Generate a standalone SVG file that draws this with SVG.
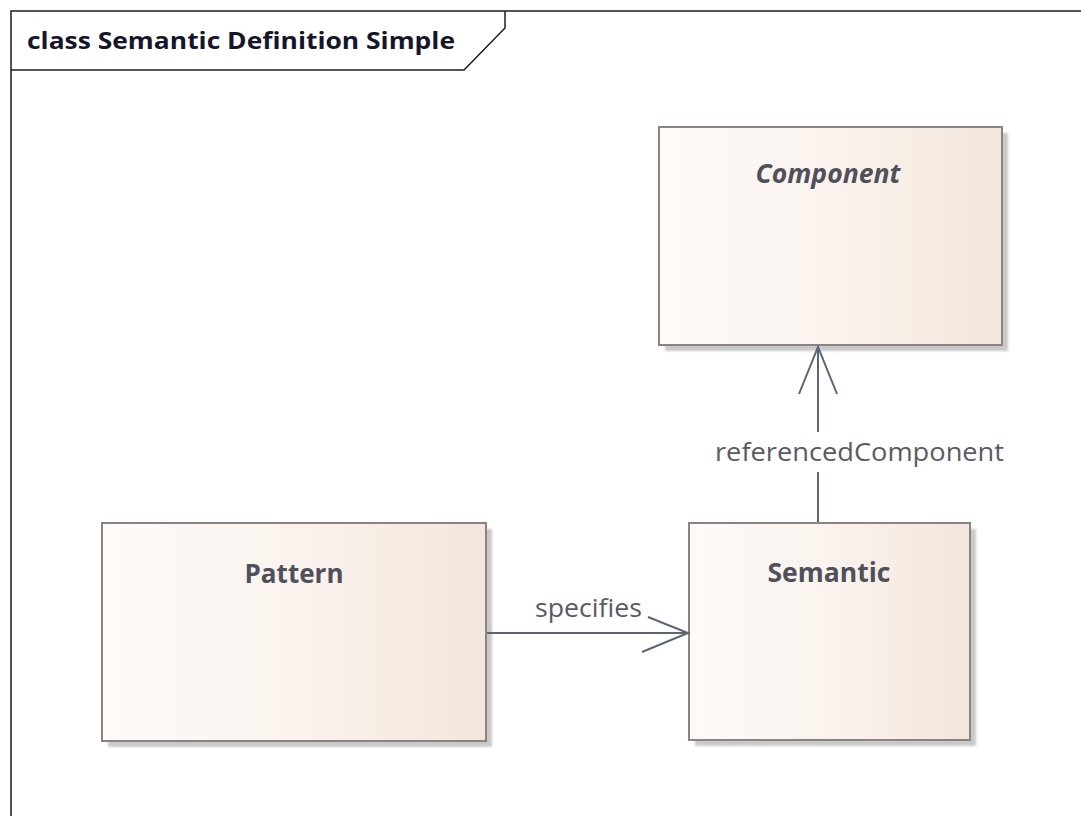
<svg xmlns="http://www.w3.org/2000/svg" width="1081" height="816" viewBox="0 0 1081 816">
  <style>
    .frame { fill: none; stroke: #1e1e1e; stroke-width: 1.5; }
    .title { font-family: "Open Sans", "Liberation Sans", sans-serif; font-weight: 700; font-size: 24px; fill: #16162a; }
    .box { fill: url(#classFill); stroke: #8c8282; stroke-width: 2; }
    .shadow { fill: #c9c9c9; filter: url(#soft); }
    .name { font-family: "Open Sans", "Liberation Sans", sans-serif; font-weight: 700; font-size: 26px; fill: #50505a; text-anchor: middle; }
    .edge { fill: none; stroke: #5c6478; stroke-width: 2; }
    .label { font-family: "Open Sans", "Liberation Sans", sans-serif; font-size: 25px; fill: #5a5a64; }
  </style>
  <defs>
    <linearGradient id="classFill" x1="0" y1="0" x2="1" y2="0">
      <stop offset="0" stop-color="#fdfaf8"/>
      <stop offset="0.5" stop-color="#faf3ee"/>
      <stop offset="1" stop-color="#f3e6db"/>
    </linearGradient>
    <filter id="soft" x="-5%" y="-5%" width="110%" height="110%">
      <feGaussianBlur stdDeviation="1.2"/>
    </filter>
  </defs>

  <rect x="0" y="0" width="1081" height="816" fill="#ffffff"/>

  <!-- diagram frame with its name tab -->
  <g id="frame">
    <rect class="frame" x="11" y="11" width="1090" height="830"/>
    <path class="frame" d="M11 70 H464 L505 28 V11"/>
    <text class="title" x="27" y="49" textLength="428" lengthAdjust="spacingAndGlyphs">class Semantic Definition Simple</text>
  </g>

  <g id="component">
    <rect class="shadow" x="665" y="133" width="343" height="218"/>
    <rect class="box" x="659" y="127" width="343" height="218"/>
    <text class="name" x="828" y="183" font-style="italic" textLength="145" lengthAdjust="spacingAndGlyphs">Component</text>
  </g>

  <g id="pattern">
    <rect class="shadow" x="108" y="529" width="384" height="218"/>
    <rect class="box" x="102" y="523" width="384" height="218"/>
    <text class="name" x="294" y="583" textLength="99" lengthAdjust="spacingAndGlyphs">Pattern</text>
  </g>

  <g id="semantic">
    <rect class="shadow" x="695" y="529" width="281" height="217"/>
    <rect class="box" x="689" y="523" width="281" height="217"/>
    <text class="name" x="829" y="582" textLength="123" lengthAdjust="spacingAndGlyphs">Semantic</text>
  </g>

  <g id="connectors">
    <!-- Pattern specifies Semantic -->
    <line class="edge" x1="487" y1="633" x2="688" y2="633"/>
    <polyline class="edge" points="648,617 688,633 642,652"/>
    <text class="label" x="535" y="617" textLength="107" lengthAdjust="spacingAndGlyphs">specifies</text>

    <!-- Semantic references Component -->
    <line class="edge" x1="818" y1="522" x2="818" y2="472"/>
    <line class="edge" x1="818" y1="432" x2="818" y2="347"/>
    <polyline class="edge" points="799,394 818,347 837,394"/>
    <text class="label" x="715" y="461" textLength="289" lengthAdjust="spacingAndGlyphs">referencedComponent</text>
  </g>
</svg>
